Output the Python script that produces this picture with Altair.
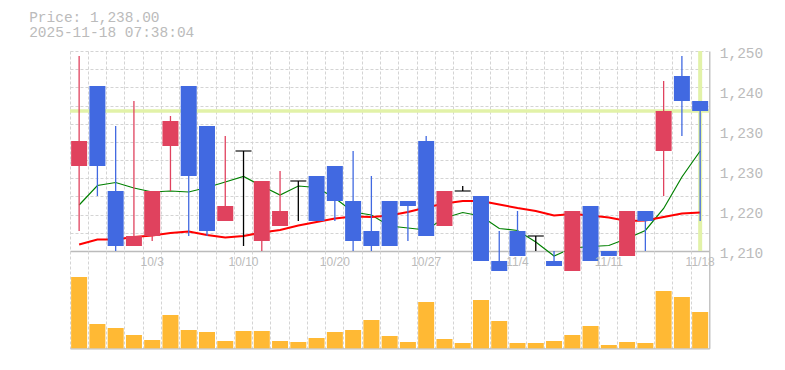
import json
import altair as alt
import pandas as pd

# ---------------- data ----------------
dates = ["9/29", "9/30", "10/1", "10/2", "10/3", "10/6", "10/7", "10/8", "10/9", "10/10",
         "10/14", "10/15", "10/16", "10/17", "10/20", "10/21", "10/22", "10/23", "10/24",
         "10/27", "10/28", "10/29", "10/30", "10/31", "11/4", "11/5", "11/6", "11/7",
         "11/10", "11/11", "11/12", "11/13", "11/14", "11/17", "11/18"]
opens = [1227, 1243, 1222, 1211, 1213, 1231, 1243, 1235, 1216, 1230, 1212, 1215, 1224, 1225,
         1227, 1220, 1214, 1220, 1220, 1232, 1215, 1222, 1221, 1208, 1214, 1213, 1208, 1206,
         1219, 1210, 1209, 1218, 1230, 1245, 1240]
highs = [1249, 1243, 1235, 1240, 1222, 1237, 1243, 1235, 1233, 1230, 1224, 1226, 1224, 1225,
         1227, 1230, 1225, 1220, 1220, 1233, 1222, 1223, 1221, 1214, 1218, 1213, 1210, 1218,
         1219, 1210, 1218, 1218, 1244, 1249, 1240]
lows = [1214, 1221, 1210, 1211, 1212, 1222, 1213, 1213, 1216, 1211, 1210, 1215, 1216, 1216,
        1216, 1210, 1210, 1211, 1212, 1213, 1215, 1222, 1208, 1206, 1209, 1210, 1207, 1206,
        1208, 1209, 1209, 1210, 1221, 1233, 1216]
closes = [1232, 1227, 1211, 1213, 1222, 1236, 1225, 1214, 1219, 1230, 1224, 1218, 1224, 1216,
          1220, 1212, 1211, 1211, 1219, 1213, 1222, 1222, 1208, 1206, 1209, 1213, 1207, 1218,
          1208, 1209, 1218, 1216, 1238, 1240, 1238]
ma_short = [1219.2, 1223.1, 1223.7, 1222.6, 1221.8, 1222.0, 1221.8, 1222.7, 1223.8, 1224.9,
            1223.0, 1221.2, 1223.0, 1222.7, 1220.6, 1217.8, 1217.2, 1215.0, 1214.6, 1214.2,
            1216.6, 1217.7, 1217.0, 1214.5, 1214.1, 1211.8, 1209.0, 1210.6, 1210.9, 1211.1,
            1212.5, 1214.1, 1218.5, 1224.8, 1230.0]
ma_long = [1211.3, 1212.3, 1212.3, 1212.8, 1213.1, 1213.6, 1213.9, 1213.2, 1212.7, 1213.0,
           1213.7, 1214.2, 1215.1, 1215.8, 1216.5, 1216.9, 1216.8, 1217.1, 1217.8, 1218.7,
           1219.5, 1220.0, 1220.0, 1219.3, 1218.6, 1218.0, 1217.1, 1217.4, 1217.1, 1216.7,
           1216.0, 1216.1, 1216.8, 1217.5, 1217.7]
volumes = [71.3, 24.3, 20.3, 13.3, 8.3, 33.3, 18.3, 16.3, 7.3, 17.3, 17.3, 7.3, 6.3, 10.3,
           16.3, 18.3, 28.3, 12.3, 6.3, 46.3, 9.3, 5.3, 48.3, 27.3, 5.3, 5.3, 7.3, 13.3, 22.3,
           3.3, 6.3, 5.3, 57.3, 51.3, 36.3]
x_labels = ["10/3", "10/10", "10/20", "10/27", "11/4", "11/11", "11/18"]
y_label_values = [1210, 1218, 1226, 1234, 1242, 1250]
title_lines = ["Price: 1,238.00", "2025-11-18 07:38:04"]

df = pd.DataFrame({"date": dates, "open": opens, "high": highs, "low": lows,
                   "close": closes, "ma_s": ma_short, "ma_l": ma_long, "volume": volumes})
df["dir"] = ["up" if c > o else ("down" if c < o else "flat") for o, c in zip(opens, closes)]

# ---------------- style ----------------
UP, DOWN, FLAT = "#E0425E", "#4169E1", "#000000"
VOL = "#FFB934"
HL = "#E2F2A8"
GRID = "#d4d4d4"
DASH = [3, 2]
TXT = "#bbbbbb"
DOM = "#bbbbbb"
PW, PH, VH = 639.3, 200, 97.3

x_scale = alt.Scale(type="band", domain=dates, paddingInner=0, paddingOuter=0)
grid_axis_x = alt.Axis(orient="bottom", bandPosition=0, grid=True, gridColor=GRID,
                       gridDash=DASH, labels=False, ticks=False, domain=True,
                       domainColor=DOM, domainWidth=1.3, title=None)
x_enc = alt.X("date:O", scale=x_scale, axis=grid_axis_x, sort=dates)

y_scale = alt.Scale(domain=[1210, 1250], nice=False, zero=False)
y_grid_vals = [1210 + 40 * k / 11 for k in range(12)]
y_grid_axis = alt.Axis(orient="left", values=y_grid_vals, grid=True, gridColor=GRID,
                       gridDash=DASH, labels=False, ticks=False, domain=False, title=None)
y_label_axis = alt.Axis(orient="right", values=y_label_values, grid=False, ticks=False,
                        domain=True, domainColor=DOM, domainWidth=1.3,
                        labelExpr="format(round(datum.value/10)*10, ',')",
                        labelFont="Liberation Mono", labelFontSize=14.5, labelColor=TXT,
                        labelPadding=10, labelOffset=2.5, title=None)
color_enc = alt.Color("dir:N", scale=alt.Scale(domain=["up", "down", "flat"],
                                               range=[UP, DOWN, FLAT]), legend=None)

base = alt.Chart(df)
last = alt.datum.date == dates[-1]

hline = base.transform_filter(last).mark_rule(color=HL, strokeWidth=3.3).encode(
    y=alt.Y("close:Q", scale=y_scale, axis=y_grid_axis))
vline = base.transform_filter(last).mark_rule(color=HL, strokeWidth=4).encode(x=x_enc)
ma_s_line = base.mark_line(color="#008000", strokeWidth=1.2).encode(
    x=x_enc, y=alt.Y("ma_s:Q", scale=y_scale, axis=None))
ma_l_line = base.mark_line(color="#FF0000", strokeWidth=2).encode(
    x=x_enc, y=alt.Y("ma_l:Q", scale=y_scale, axis=None))
wicks = base.mark_rule(strokeWidth=1.3).encode(
    x=x_enc, y=alt.Y("low:Q", scale=y_scale, axis=y_label_axis), y2="high:Q", color=color_enc)
bodies = base.transform_filter(alt.datum.dir != "flat").mark_bar(size=16).encode(
    x=x_enc, y=alt.Y("open:Q", scale=y_scale, axis=None), y2="close:Q", color=color_enc)
doji = base.transform_filter(alt.datum.dir == "flat").mark_tick(
    size=16, thickness=1.6, color=FLAT).encode(
    x=x_enc, y=alt.Y("close:Q", scale=y_scale, axis=None))

price = alt.layer(hline, vline, ma_s_line, ma_l_line, wicks, bodies, doji).resolve_axis(
    y="independent").properties(width=PW, height=PH)

# ---------------- volume ----------------
v_scale = alt.Scale(domain=[0, VH], nice=False, zero=True)
label_axis_x = alt.Axis(orient="top", grid=False,
                        ticks=False, domain=False, labelOverlap=False, labelAngle=0,
                        labelExpr="indexof(" + json.dumps(x_labels) + ", datum.value) >= 0 ? datum.value : ''",
                        labelFont="Liberation Sans", labelFontSize=12, labelColor=TXT,
                        labelBaseline="middle", labelPadding=-11, title=None)
vol_bars = base.mark_bar(size=16, color=VOL).encode(
    x=x_enc,
    y=alt.Y("volume:Q", scale=v_scale,
            axis=alt.Axis(orient="right", domain=True, domainColor=DOM, domainWidth=1.3,
                          labels=False, ticks=False, grid=False, title=None)))
vol_labels = base.mark_bar(size=16, opacity=0).encode(
    x=alt.X("date:O", scale=x_scale, axis=label_axis_x, sort=dates),
    y=alt.Y("volume:Q", scale=v_scale, axis=None))
volume = alt.layer(vol_bars, vol_labels).resolve_axis(x="independent", y="independent").properties(
    width=PW, height=VH)

chart = alt.vconcat(price, volume, spacing=0, bounds="flush").properties(
    title=alt.TitleParams(text=title_lines, anchor="start", dx=-39.2, font="Liberation Mono",
                          fontSize=14.5, fontWeight="normal", color=TXT, lineHeight=15,
                          offset=5),
    padding={"left": 29, "top": 10, "right": 5, "bottom": 5},
).configure_view(stroke=None)

chart.save("out.html", embed_options={"renderer": "svg", "actions": False})
